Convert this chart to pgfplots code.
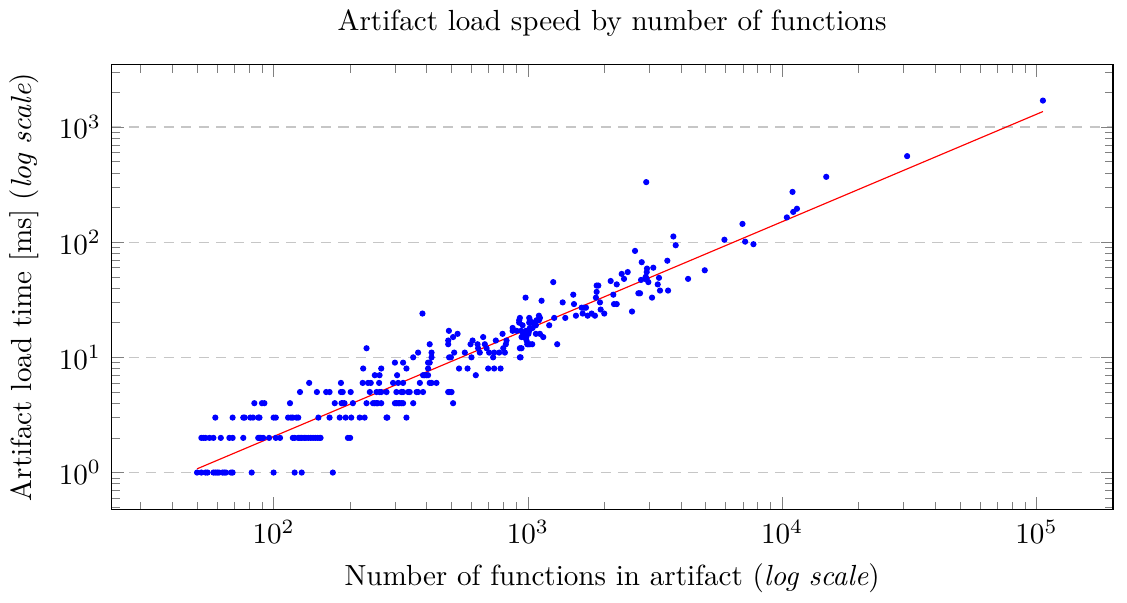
\documentclass[border=0pt]{standalone}
\usepackage{pgfplots}
\pgfplotsset{compat=1.18}
\usepackage{pgfplotstable}

% measured load times (ms) against function count
\pgfplotstableread{
x y
50 1
52 1
54 1
55 1
58 1
59 1
60 1
61 1
63 1
64 1
65 1
68 1
69 1
82 1
100 1
121 1
129 1
171 1
52 2
53 2
54 2
56 2
58 2
62 2
67 2
69 2
76 2
87 2
88 2
89 2
91 2
96 2
102 2
106 2
119 2
121 2
125 2
127 2
129 2
132 2
134 2
137 2
140 2
143 2
146 2
149 2
152 2
153 2
196 2
200 2
59 3
69 3
76 3
77 3
81 3
83 3
87 3
88 3
100 3
102 3
114 3
117 3
119 3
123 3
125 3
150 3
166 3
182 3
192 3
202 3
218 3
228 3
278 3
280 3
333 3
84 4
90 4
92 4
116 4
174 4
185 4
187 4
190 4
205 4
232 4
246 4
250 4
254 4
257 4
265 4
300 4
304 4
309 4
313 4
318 4
323 4
354 4
508 4
127 5
148 5
161 5
166 5
184 5
187 5
201 5
239 5
254 5
261 5
265 5
278 5
304 5
318 5
323 5
338 5
343 5
365 5
370 5
387 5
486 5
493 5
501 5
138 6
184 6
224 6
235 6
241 6
260 6
295 6
309 6
323 6
376 6
411 6
418 6
437 6
250 7
261 7
306 7
387 7
393 7
399 7
405 7
624 7
225 8
265 8
333 8
405 8
536 8
579 8
698 8
737 8
781 8
300 9
323 9
405 9
411 9
354 10
418 10
490 10
498 10
600 10
730 10
930 10
936 10
370 11
418 11
513 11
565 11
647 11
704 11
737 11
771 11
812 11
232 12
637 12
688 12
800 12
930 12
944 12
411 13
486 13
595 13
634 13
677 13
819 13
994 13
1003 13
1018 13
1040 13
1304 13
486 14
606 14
748 14
824 14
988 14
508 15
667 15
944 15
964 15
985 15
1149 15
529 16
795 16
958 16
1005 16
1075 16
1115 16
489 17
871 17
903 17
940 17
982 17
1012 17
871 18
1018 18
1043 18
953 19
1075 19
1213 19
924 20
1012 20
1049 20
924 21
1018 21
1082 21
1105 21
930 22
1012 22
1115 22
1269 22
1403 22
1105 23
1545 23
1718 23
1835 23
385 24
1642 24
1781 24
1997 24
2567 25
1933 26
1627 27
1662 27
1692 27
1518 29
2181 29
2235 29
1370 30
1921 30
1132 31
979 33
1852 33
3077 33
1508 35
2167 35
2719 36
2760 36
1864 37
3308 38
3558 38
1864 42
1892 42
2235 43
3240 43
1258 45
2976 45
2116 46
2786 47
2388 48
2888 48
2933 48
4265 48
3278 49
2907 50
2338 53
2469 55
2933 55
4960 57
2940 59
3113 60
2803 67
3535 69
2638 84
3814 94
7710 96
7150 101
5927 105
3733 112
6980 144
10430 164
11050 183
11430 195
10980 273
2920 332
14900 369
31000 558
106000 1694
}\loadtimes

\begin{document}
\begin{tikzpicture}
\begin{axis}[
  scale only axis,
  width=344pt, height=153pt,
  xmode=log, ymode=log,
  xmin=23, xmax=2.0e5,
  ymin=0.475, ymax=3500,
  title={Artifact load speed by number of functions},
  xlabel={Number of functions in artifact (\textit{log scale})},
  ylabel={Artifact load time [ms] (\textit{log scale})},
  ymajorgrids,
  grid style={dash pattern=on 3.5pt off 2.5pt, gray!45},
]
\addplot[only marks, mark=*, mark size=0.85pt, blue] table[x=x, y=y] {\loadtimes};
\addplot[red, thin] coordinates {(50,1.077) (106000,1361)};
\end{axis}
% small blank margin on the right, as in the reference
\path (current axis.east) ++(4.8pt,0);
\end{tikzpicture}
\end{document}
